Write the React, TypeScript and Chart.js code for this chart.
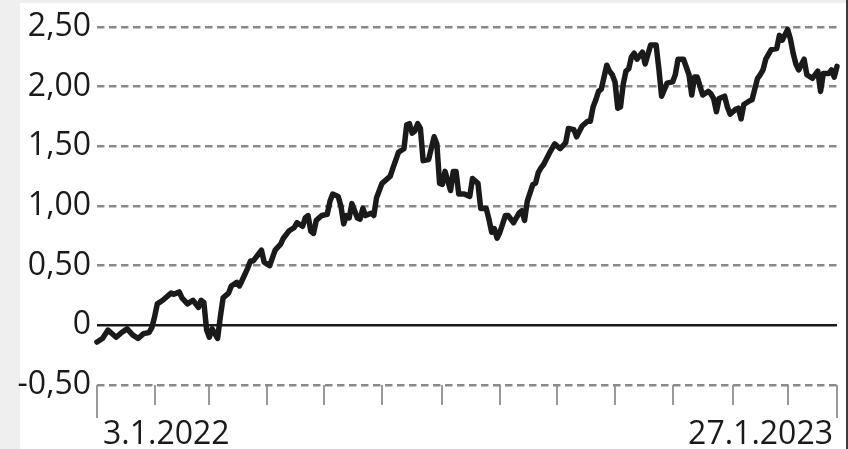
import React, { useEffect, useRef } from "react";
import { Chart, registerables } from "chart.js";

Chart.register(...registerables);

// Trading-day index (0 = 3.1.2022) of each traced point
const days = [
  0, 2, 4, 5, 7, 9, 11, 13, 15, 17,
  19, 20, 21, 22, 24, 27, 28, 30, 31, 33,
  35, 37, 38, 39, 40, 41, 42, 44, 45, 46,
  48, 49, 51, 52, 53, 55, 56, 57, 58, 60,
  61, 63, 65, 67, 68, 70, 72, 73, 75, 76,
  77, 78, 79, 80, 82, 84, 85, 86, 88, 89,
  90, 91, 92, 93, 95, 96, 97, 98, 100, 101,
  102, 104, 106, 107, 108, 110, 112, 113, 114, 115,
  116, 117, 118, 119, 121, 123, 124, 125, 126, 127,
  128, 129, 130, 131, 132, 134, 136, 137, 139, 140,
  142, 143, 144, 145, 146, 147, 149, 150, 152, 154,
  155, 156, 157, 159, 160, 161, 162, 163, 165, 167,
  169, 171, 172, 174, 175, 177, 179, 180, 181, 182,
  183, 184, 186, 187, 188, 189, 190, 191, 192, 193,
  194, 195, 196, 197, 199, 200, 201, 202, 204, 205,
  206, 208, 210, 211, 212, 214, 216, 217, 218, 219,
  221, 223, 224, 225, 226, 227, 229, 230, 231, 233,
  234, 235, 236, 238, 239, 241, 242, 243, 244, 246,
  248, 249, 250, 252, 253, 254, 255, 256, 258, 259,
  261, 263, 264, 265, 267, 268, 269, 270,
];

const values = [
  -0.14, -0.11, -0.04, -0.06, -0.1, -0.06, -0.03, -0.08, -0.11, -0.07,
  -0.06, -0.02, 0.07, 0.18, 0.21, 0.27, 0.26, 0.28, 0.23, 0.18,
  0.21, 0.15, 0.21, 0.19, -0.04, -0.1, -0.03, -0.11, 0.07, 0.23,
  0.27, 0.33, 0.36, 0.33, 0.38, 0.48, 0.54, 0.54, 0.57, 0.63,
  0.53, 0.5, 0.63, 0.68, 0.73, 0.79, 0.82, 0.86, 0.83, 0.9,
  0.92, 0.79, 0.77, 0.88, 0.92, 0.93, 1.04, 1.1, 1.08, 1.0,
  0.85, 0.92, 0.9, 1.02, 0.9, 0.89, 0.98, 0.92, 0.94, 0.92,
  1.07, 1.19, 1.23, 1.25, 1.32, 1.45, 1.48, 1.68, 1.69, 1.61,
  1.63, 1.69, 1.65, 1.38, 1.39, 1.58, 1.52, 1.19, 1.18, 1.29,
  1.21, 1.13, 1.29, 1.29, 1.1, 1.1, 1.08, 1.23, 1.19, 0.98,
  0.98, 0.89, 0.78, 0.81, 0.73, 0.78, 0.92, 0.92, 0.86, 0.94,
  0.96, 0.88, 1.04, 1.18, 1.19, 1.28, 1.32, 1.35, 1.44, 1.52,
  1.48, 1.53, 1.65, 1.64, 1.58, 1.67, 1.71, 1.71, 1.83, 1.89,
  1.96, 1.98, 2.18, 2.13, 2.1, 2.04, 1.82, 1.83, 2.02, 2.13,
  2.15, 2.25, 2.28, 2.23, 2.29, 2.19, 2.27, 2.35, 2.35, 2.15,
  1.92, 2.03, 2.04, 2.1, 2.23, 2.23, 2.1, 1.93, 2.08, 2.08,
  1.93, 1.96, 1.94, 1.9, 1.79, 1.9, 1.92, 1.83, 1.77, 1.81,
  1.82, 1.73, 1.85, 1.88, 1.89, 2.07, 2.1, 2.14, 2.23, 2.31,
  2.32, 2.43, 2.39, 2.48, 2.4, 2.28, 2.19, 2.14, 2.23, 2.1,
  2.07, 2.13, 1.96, 2.11, 2.11, 2.14, 2.08, 2.17,
];

// Month-start tick positions (trading-day index) plus the final day
const xTickDays = [0, 21, 41, 62, 83, 104, 126, 147, 168, 189, 210, 232, 252, 270];
const xLabels = ["3.1.2022", "27.1.2023"];

const yTickValues = [-0.5, 0, 0.5, 1, 1.5, 2, 2.5];
const yTickLabels = ["-0,50", "0", "0,50", "1,00", "1,50", "2,00", "2,50"];

const FONT = '"Open Sans", "Noto Sans", sans-serif';

export default function App() {
  const ref = useRef<HTMLCanvasElement>(null);

  useEffect(() => {
    if (!ref.current) return;

    const edgePlugin = {
      id: "edgeLabels",
      afterDraw(chart: any) {
        const ctx = chart.ctx;
        const xs = chart.scales.x;
        const first = Math.round(xs.getPixelForValue(xTickDays[0]));
        const last = Math.round(xs.getPixelForValue(xTickDays[xTickDays.length - 1]));
        const top = xs.top;
        ctx.save();
        ctx.strokeStyle = "#9a9a9a";
        ctx.lineWidth = 2;
        [first, last].forEach((px) => {
          ctx.beginPath();
          ctx.moveTo(px, top);
          ctx.lineTo(px, top + 33);
          ctx.stroke();
        });
        ctx.fillStyle = "#1a1a1a";
        ctx.font = `32px ${FONT}`;
        ctx.textBaseline = "alphabetic";
        ctx.textAlign = "left";
        ctx.fillText(xLabels[0], first + 6, top + 59);
        ctx.textAlign = "right";
        ctx.fillText(xLabels[1], last - 4, top + 59);
        ctx.restore();
      },
    };

    const chart = new Chart(ref.current, {
      type: "line",
      data: {
        datasets: [
          {
            data: days.map((d, i) => ({ x: d, y: values[i] })),
            borderColor: "#1a1a1a",
            borderWidth: 5.5,
            pointRadius: 0,
            tension: 0,
            borderJoinStyle: "round",
            borderCapStyle: "round",
            clip: false as any,
          },
        ],
      },
      options: {
        animation: false,
        responsive: false,
        maintainAspectRatio: false,
        layout: { padding: { top: 27, right: 11, left: 0, bottom: 0 } },
        plugins: { legend: { display: false }, tooltip: { enabled: false } },
        scales: {
          x: {
            type: "linear",
            min: xTickDays[0],
            max: xTickDays[xTickDays.length - 1],
            afterBuildTicks: (s: any) => {
              s.ticks = xTickDays.map((v) => ({ value: v }));
            },
            afterFit: (s: any) => {
              s.height = 64;
            },
            ticks: { display: false, autoSkip: false },
            grid: {
              drawOnChartArea: false,
              drawTicks: true,
              tickLength: 20,
              tickColor: "#9a9a9a",
              tickWidth: 2,
              color: "#9a9a9a",
              lineWidth: 2,
            },
            border: { display: false },
          },
          y: {
            type: "linear",
            min: -0.5,
            max: 2.5,
            afterBuildTicks: (s: any) => {
              s.ticks = yTickValues.map((v) => ({ value: v }));
            },
            afterFit: (s: any) => {
              s.width = 97;
            },
            ticks: {
              padding: 6,
              color: "#1a1a1a",
              font: { family: FONT, size: 32 },
              callback: (v: any) => yTickLabels[yTickValues.indexOf(Number(v))],
            },
            grid: {
              drawTicks: false,
              color: (c: any) => (c.tick && c.tick.value === 0 ? "#1a1a1a" : "#8a8a8a"),
              lineWidth: (c: any) => (c.tick && c.tick.value === 0 ? 2.5 : 2.5),
            },
            border: {
              display: false,
              dash: (c: any) => (c.tick && c.tick.value === 0 ? [] : [7.5, 4.5]),
            },
          },
        },
      },
      plugins: [edgePlugin],
    } as any);

    return () => chart.destroy();
  }, []);

  return (
    <div
      style={{
        position: "fixed",
        left: 0,
        top: 0,
        width: 848,
        height: 449,
        background: "#efefef",
        overflow: "hidden",
      }}
    >
      <div
        style={{
          position: "absolute",
          left: 20,
          top: 3,
          width: 826,
          height: 446,
          background: "#ffffff",
        }}
      />
      <div
        style={{
          position: "absolute",
          left: 846,
          top: 0,
          width: 2,
          height: 449,
          background: "#3a3a3a",
        }}
      />
      <canvas
        ref={ref}
        width={848}
        height={449}
        style={{ position: "absolute", left: 0, top: 0, width: 848, height: 449, display: "block" }}
      />
    </div>
  );
}
